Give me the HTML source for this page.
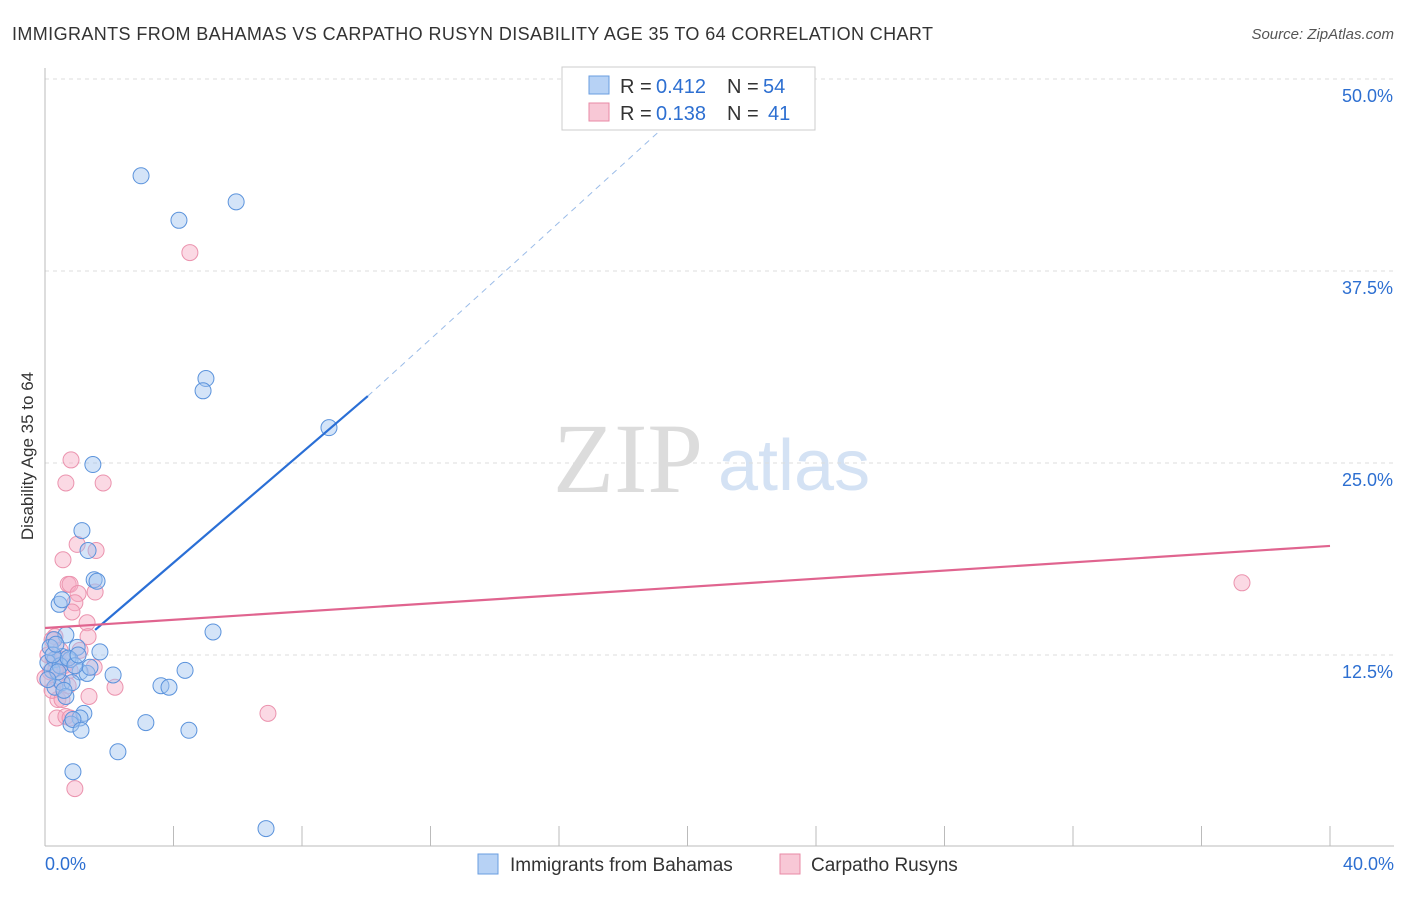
<!DOCTYPE html>
<html><head><meta charset="utf-8"><style>
body{margin:0;background:#fff;font-family:"Liberation Sans",sans-serif;}
</style></head><body>
<svg width="1406" height="892" id="c" font-family="Liberation Sans, sans-serif">
<text x="12" y="40" font-size="18" fill="#333" textLength="921">IMMIGRANTS FROM BAHAMAS VS CARPATHO RUSYN DISABILITY AGE 35 TO 64 CORRELATION CHART</text>
<text x="1394" y="39" font-size="15" fill="#555" font-style="italic" text-anchor="end">Source: ZipAtlas.com</text>
<text x="0" y="0" transform="translate(33,456) rotate(-90)" font-size="17" fill="#333" text-anchor="middle">Disability Age 35 to 64</text>
<text x="553" y="492" font-size="100" fill="#dcdcdc" style="font-family:'Liberation Serif',serif">ZIP</text>
<text x="718" y="490" font-size="72" fill="#d4e2f4">atlas</text>
<g id="grid"></g><g id="pts"></g><g id="lines"></g>
<g>
<rect x="562" y="67" width="253" height="63" fill="#fff" stroke="#ccc"/>
<rect x="589" y="76" width="20" height="18" fill="#b7d2f5" stroke="#6a9ee0"/>
<text y="93" font-size="20" fill="#333"><tspan x="620">R =</tspan><tspan x="656" fill="#2d6fd1">0.412</tspan><tspan x="727">N =</tspan><tspan x="763" fill="#2d6fd1">54</tspan></text>
<rect x="589" y="103" width="20" height="18" fill="#f8c8d6" stroke="#e88aa6"/>
<text y="120" font-size="20" fill="#333"><tspan x="620">R =</tspan><tspan x="656" fill="#2d6fd1">0.138</tspan><tspan x="727">N =</tspan><tspan x="768" fill="#2d6fd1">41</tspan></text>
</g>
<g>
<rect x="478" y="854" width="20" height="20" fill="#b7d2f5" stroke="#6a9ee0"/>
<text x="510" y="871" font-size="19" fill="#333">Immigrants from Bahamas</text>
<rect x="780" y="854" width="20" height="20" fill="#f8c8d6" stroke="#e88aa6"/>
<text x="811" y="871" font-size="19" fill="#333">Carpatho Rusyns</text>
</g>
</svg>
<script>
const blueX=[2.99,4.17,5.95,5.01,4.92,8.84,1.49,1.15,1.34,1.53,1.62,0.44,0.53,5.23,0.65,0.28,1.71,1.0,0.53,0.31,0.09,0.78,1.09,1.31,2.12,4.36,3.61,3.86,0.31,0.53,0.84,0.22,0.65,1.21,1.09,0.81,0.87,1.12,3.14,4.48,2.27,0.87,6.88,0.47,0.16,0.72,0.40,1.40,0.93,0.25,0.59,0.09,0.34,1.03];
const blueY=[43.7,40.8,42.0,30.5,29.7,27.3,24.9,20.6,19.3,17.4,17.3,15.8,16.1,14.0,13.8,13.5,12.7,13.0,12.4,12.2,12.0,12.2,11.4,11.3,11.2,11.5,10.5,10.4,10.4,10.7,10.7,11.5,9.8,8.7,8.4,8.0,8.3,7.6,8.1,7.6,6.2,4.9,1.2,11.8,13.0,12.3,11.4,11.7,11.8,12.5,10.2,10.9,13.2,12.5];
const pinkX=[4.51,0.81,0.65,1.81,1.0,1.59,0.56,0.72,0.78,1.56,1.03,0.93,0.84,1.31,1.34,0.31,0.22,0.47,0.28,0.59,0.78,1.53,0.40,0.16,0.72,1.37,2.18,6.94,37.26,0.37,0.65,0.78,0.93,0.53,0.09,0.40,0.22,0,1.09,0.53,0.34];
const pinkY=[38.7,25.2,23.7,23.7,19.7,19.3,18.7,17.1,17.1,16.6,16.5,15.9,15.3,14.6,13.7,13.7,13.5,12.8,12.2,11.8,11.5,11.7,10.9,11.4,10.5,9.8,10.4,8.7,17.2,8.4,8.5,8.4,3.8,12.2,12.5,9.6,10.2,11.0,12.8,9.6,11.6];
const yTicks=[12.5,25.0,37.5,50.0];
const xTickVals=[0,4,8,12,16,20,24,28,32,36,40];
const blueSolidX=[1.56,10.05];
const blueSolidY=[14.13,29.36];
const blueDashX=[10.05,20.86];
const blueDashY=[29.36,49.9];
const pinkLineX=[0,40];
const pinkLineY=[14.26,19.6];
const sx=v=>45+v*32.125, sy=v=>847-v*15.36;
const NS='http://www.w3.org/2000/svg';
function mk(t,a,p){const e=document.createElementNS(NS,t);for(const k in a)e.setAttribute(k,a[k]);p.appendChild(e);return e;}
const g=document.getElementById('grid');
yTicks.forEach(v=>{
 const l=mk('line',{x1:45,x2:1394,y1:sy(v),y2:sy(v),stroke:'#ddd','stroke-dasharray':'4,4'},g);
 
 
 const t=mk('text',{x:1393,y:sy(v)+23,'font-size':18,fill:'#2d6fd1','text-anchor':'end'},g);t.textContent=v.toFixed(1)+'%';
 
 
});
const ax=mk('line',{x1:45,x2:45,y1:68,y2:846,stroke:'#bbb'},g);


const bx=mk('line',{x1:45,x2:1394,y1:846,y2:846,stroke:'#bbb'},g);


xTickVals.forEach(v=>{const l=mk('line',{x1:sx(v),x2:sx(v),y1:826,y2:846,stroke:'#bbb'},g);
 
 });
[[0,'start',45],[40,'end',1394]].forEach(([v,a,x])=>{const t=mk('text',{x:x,y:870,'font-size':18,fill:'#2d6fd1','text-anchor':a},g);t.textContent=v.toFixed(1)+'%';
 
 });
const p=document.getElementById('pts');
pinkX.forEach((x,i)=>{const c=mk('circle',{cx:sx(x),cy:sy(pinkY[i]),r:8,fill:'rgba(246,170,195,0.45)',stroke:'#eb93ae','stroke-width':1},p);
 
 });
blueX.forEach((x,i)=>{const c=mk('circle',{cx:sx(x),cy:sy(blueY[i]),r:8,fill:'rgba(160,195,240,0.45)',stroke:'#5b93dc','stroke-width':1},p);
 
 });
const L=document.getElementById('lines');
const b1=mk('line',{x1:sx(blueSolidX[0]),y1:sy(blueSolidY[0]),x2:sx(blueSolidX[1]),y2:sy(blueSolidY[1]),stroke:'#2a6fd6','stroke-width':2.2},L);


const b2=mk('line',{x1:sx(blueDashX[0]),y1:sy(blueDashY[0]),x2:sx(blueDashX[1]),y2:sy(blueDashY[1]),stroke:'#9bbce8','stroke-width':1,'stroke-dasharray':'6,5'},L);


const pl=mk('line',{x1:sx(pinkLineX[0]),y1:sy(pinkLineY[0]),x2:sx(pinkLineX[1]),y2:sy(pinkLineY[1]),stroke:'#e0648f','stroke-width':2.2},L);


</script>
</body></html>
